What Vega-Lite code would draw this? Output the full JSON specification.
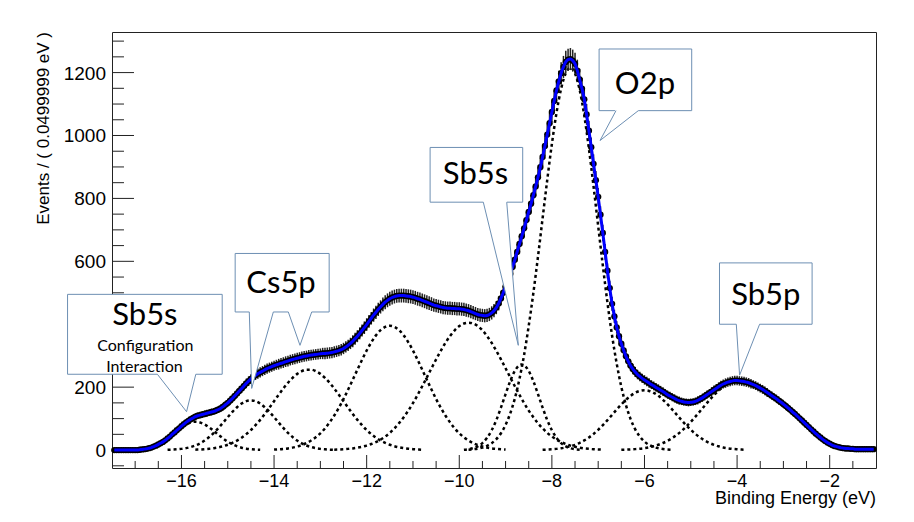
{
"$schema": "https://vega.github.io/schema/vega-lite/v6.json",
"width": 764, "height": 436, "autosize": "none",
"padding": {"left": 112, "top": 32, "right": 38, "bottom": 54},
"background": "white",
"config": {"view": {"stroke": "#222", "strokeWidth": 1}, "axis": {"grid": false}},
"datasets": {
"spec": [
{"x":-17.45,"y":0,"e":0},{"x":-17.4,"y":0,"e":0},{"x":-17.35,"y":0,"e":0},{"x":-17.3,"y":0,"e":0},{"x":-17.25,"y":0,"e":0},{"x":-17.2,"y":0,"e":0},{"x":-17.15,"y":0,"e":0},{"x":-17.1,"y":0,"e":0},{"x":-17.05,"y":0,"e":0},{"x":-17.0,"y":0,"e":0},
{"x":-16.95,"y":0,"e":0},{"x":-16.9,"y":1,"e":1},{"x":-16.85,"y":2,"e":1},{"x":-16.8,"y":3,"e":2},{"x":-16.75,"y":4,"e":2},{"x":-16.7,"y":6,"e":2},{"x":-16.65,"y":8,"e":3},{"x":-16.6,"y":11,"e":3},{"x":-16.55,"y":14,"e":4},{"x":-16.5,"y":18,"e":4},
{"x":-16.45,"y":22,"e":5},{"x":-16.4,"y":26,"e":5},{"x":-16.35,"y":31,"e":6},{"x":-16.3,"y":37,"e":6},{"x":-16.25,"y":43,"e":7},{"x":-16.2,"y":50,"e":7},{"x":-16.15,"y":56,"e":7},{"x":-16.1,"y":63,"e":8},{"x":-16.05,"y":69,"e":8},{"x":-16.0,"y":76,"e":9},
{"x":-15.95,"y":82,"e":9},{"x":-15.9,"y":88,"e":9},{"x":-15.85,"y":93,"e":10},{"x":-15.8,"y":98,"e":10},{"x":-15.75,"y":102,"e":10},{"x":-15.7,"y":106,"e":10},{"x":-15.65,"y":109,"e":10},{"x":-15.6,"y":111,"e":11},{"x":-15.55,"y":113,"e":11},{"x":-15.5,"y":115,"e":11},
{"x":-15.45,"y":117,"e":11},{"x":-15.4,"y":119,"e":11},{"x":-15.35,"y":121,"e":11},{"x":-15.3,"y":123,"e":11},{"x":-15.25,"y":126,"e":11},{"x":-15.2,"y":129,"e":11},{"x":-15.15,"y":133,"e":12},{"x":-15.1,"y":138,"e":12},{"x":-15.05,"y":144,"e":12},{"x":-15.0,"y":150,"e":12},
{"x":-14.95,"y":157,"e":13},{"x":-14.9,"y":164,"e":13},{"x":-14.85,"y":172,"e":13},{"x":-14.8,"y":180,"e":13},{"x":-14.75,"y":188,"e":14},{"x":-14.7,"y":196,"e":14},{"x":-14.65,"y":204,"e":14},{"x":-14.6,"y":212,"e":15},{"x":-14.55,"y":219,"e":15},{"x":-14.5,"y":226,"e":15},
{"x":-14.45,"y":232,"e":15},{"x":-14.4,"y":238,"e":15},{"x":-14.35,"y":243,"e":16},{"x":-14.3,"y":247,"e":16},{"x":-14.25,"y":251,"e":16},{"x":-14.2,"y":255,"e":16},{"x":-14.15,"y":259,"e":16},{"x":-14.1,"y":262,"e":16},{"x":-14.05,"y":265,"e":16},{"x":-14.0,"y":268,"e":16},
{"x":-13.95,"y":271,"e":16},{"x":-13.9,"y":273,"e":17},{"x":-13.85,"y":276,"e":17},{"x":-13.8,"y":278,"e":17},{"x":-13.75,"y":281,"e":17},{"x":-13.7,"y":283,"e":17},{"x":-13.65,"y":286,"e":17},{"x":-13.6,"y":288,"e":17},{"x":-13.55,"y":290,"e":17},{"x":-13.5,"y":292,"e":17},
{"x":-13.45,"y":294,"e":17},{"x":-13.4,"y":296,"e":17},{"x":-13.35,"y":298,"e":17},{"x":-13.3,"y":299,"e":17},{"x":-13.25,"y":301,"e":17},{"x":-13.2,"y":302,"e":17},{"x":-13.15,"y":303,"e":17},{"x":-13.1,"y":304,"e":17},{"x":-13.05,"y":305,"e":17},{"x":-13.0,"y":306,"e":17},
{"x":-12.95,"y":307,"e":18},{"x":-12.9,"y":307,"e":18},{"x":-12.85,"y":308,"e":18},{"x":-12.8,"y":309,"e":18},{"x":-12.75,"y":310,"e":18},{"x":-12.7,"y":312,"e":18},{"x":-12.65,"y":314,"e":18},{"x":-12.6,"y":316,"e":18},{"x":-12.55,"y":319,"e":18},{"x":-12.5,"y":323,"e":18},
{"x":-12.45,"y":328,"e":18},{"x":-12.4,"y":333,"e":18},{"x":-12.35,"y":339,"e":18},{"x":-12.3,"y":346,"e":19},{"x":-12.25,"y":354,"e":19},{"x":-12.2,"y":362,"e":19},{"x":-12.15,"y":371,"e":19},{"x":-12.1,"y":380,"e":19},{"x":-12.05,"y":389,"e":20},{"x":-12.0,"y":399,"e":20},
{"x":-11.95,"y":409,"e":20},{"x":-11.9,"y":419,"e":20},{"x":-11.85,"y":429,"e":21},{"x":-11.8,"y":438,"e":21},{"x":-11.75,"y":447,"e":21},{"x":-11.7,"y":455,"e":21},{"x":-11.65,"y":463,"e":22},{"x":-11.6,"y":470,"e":22},{"x":-11.55,"y":476,"e":22},{"x":-11.5,"y":481,"e":22},
{"x":-11.45,"y":485,"e":22},{"x":-11.4,"y":488,"e":22},{"x":-11.35,"y":490,"e":22},{"x":-11.3,"y":491,"e":22},{"x":-11.25,"y":491,"e":22},{"x":-11.2,"y":491,"e":22},{"x":-11.15,"y":490,"e":22},{"x":-11.1,"y":489,"e":22},{"x":-11.05,"y":488,"e":22},{"x":-11.0,"y":486,"e":22},
{"x":-10.95,"y":484,"e":22},{"x":-10.9,"y":481,"e":22},{"x":-10.85,"y":479,"e":22},{"x":-10.8,"y":476,"e":22},{"x":-10.75,"y":473,"e":22},{"x":-10.7,"y":470,"e":22},{"x":-10.65,"y":467,"e":22},{"x":-10.6,"y":464,"e":22},{"x":-10.55,"y":461,"e":21},{"x":-10.5,"y":459,"e":21},
{"x":-10.45,"y":457,"e":21},{"x":-10.4,"y":455,"e":21},{"x":-10.35,"y":453,"e":21},{"x":-10.3,"y":452,"e":21},{"x":-10.25,"y":451,"e":21},{"x":-10.2,"y":451,"e":21},{"x":-10.15,"y":450,"e":21},{"x":-10.1,"y":450,"e":21},{"x":-10.05,"y":449,"e":21},{"x":-10.0,"y":449,"e":21},
{"x":-9.95,"y":448,"e":21},{"x":-9.9,"y":447,"e":21},{"x":-9.85,"y":445,"e":21},{"x":-9.8,"y":443,"e":21},{"x":-9.75,"y":440,"e":21},{"x":-9.7,"y":437,"e":21},{"x":-9.65,"y":434,"e":21},{"x":-9.6,"y":431,"e":21},{"x":-9.55,"y":429,"e":21},{"x":-9.5,"y":428,"e":21},
{"x":-9.45,"y":427,"e":21},{"x":-9.4,"y":428,"e":21},{"x":-9.35,"y":431,"e":21},{"x":-9.3,"y":436,"e":21},{"x":-9.25,"y":443,"e":21},{"x":-9.2,"y":453,"e":21},{"x":-9.15,"y":466,"e":22},{"x":-9.1,"y":482,"e":22},{"x":-9.05,"y":500,"e":22},{"x":-9.0,"y":520,"e":23},
{"x":-8.95,"y":540,"e":23},{"x":-8.9,"y":560,"e":24},{"x":-8.85,"y":582,"e":24},{"x":-8.8,"y":605,"e":25},{"x":-8.75,"y":630,"e":25},{"x":-8.7,"y":655,"e":26},{"x":-8.65,"y":680,"e":26},{"x":-8.6,"y":705,"e":27},{"x":-8.55,"y":731,"e":27},{"x":-8.5,"y":757,"e":28},
{"x":-8.45,"y":783,"e":28},{"x":-8.4,"y":810,"e":28},{"x":-8.35,"y":838,"e":29},{"x":-8.3,"y":867,"e":29},{"x":-8.25,"y":899,"e":30},{"x":-8.2,"y":932,"e":31},{"x":-8.15,"y":967,"e":31},{"x":-8.1,"y":1003,"e":32},{"x":-8.05,"y":1039,"e":32},{"x":-8.0,"y":1075,"e":33},
{"x":-7.95,"y":1110,"e":33},{"x":-7.9,"y":1143,"e":34},{"x":-7.85,"y":1172,"e":34},{"x":-7.8,"y":1198,"e":35},{"x":-7.75,"y":1218,"e":35},{"x":-7.7,"y":1234,"e":35},{"x":-7.65,"y":1241,"e":35},{"x":-7.6,"y":1243,"e":35},{"x":-7.55,"y":1238,"e":35},{"x":-7.5,"y":1228,"e":35},
{"x":-7.45,"y":1206,"e":35},{"x":-7.4,"y":1178,"e":34},{"x":-7.35,"y":1149,"e":34},{"x":-7.3,"y":1115,"e":33},{"x":-7.25,"y":1067,"e":33},{"x":-7.2,"y":1015,"e":32},{"x":-7.15,"y":963,"e":31},{"x":-7.1,"y":910,"e":30},{"x":-7.05,"y":858,"e":29},{"x":-7.0,"y":805,"e":28},
{"x":-6.95,"y":748,"e":27},{"x":-6.9,"y":690,"e":26},{"x":-6.85,"y":630,"e":25},{"x":-6.8,"y":570,"e":24},{"x":-6.75,"y":515,"e":23},{"x":-6.7,"y":465,"e":22},{"x":-6.65,"y":425,"e":21},{"x":-6.6,"y":390,"e":20},{"x":-6.55,"y":362,"e":19},{"x":-6.5,"y":338,"e":18},
{"x":-6.45,"y":317,"e":18},{"x":-6.4,"y":298,"e":17},{"x":-6.35,"y":282,"e":17},{"x":-6.3,"y":268,"e":16},{"x":-6.25,"y":257,"e":16},{"x":-6.2,"y":248,"e":16},{"x":-6.15,"y":240,"e":15},{"x":-6.1,"y":234,"e":15},{"x":-6.05,"y":228,"e":15},{"x":-6.0,"y":223,"e":15},
{"x":-5.95,"y":218,"e":15},{"x":-5.9,"y":213,"e":15},{"x":-5.85,"y":208,"e":14},{"x":-5.8,"y":204,"e":14},{"x":-5.75,"y":199,"e":14},{"x":-5.7,"y":195,"e":14},{"x":-5.65,"y":190,"e":14},{"x":-5.6,"y":186,"e":14},{"x":-5.55,"y":181,"e":13},{"x":-5.5,"y":176,"e":13},
{"x":-5.45,"y":172,"e":13},{"x":-5.4,"y":168,"e":13},{"x":-5.35,"y":164,"e":13},{"x":-5.3,"y":160,"e":13},{"x":-5.25,"y":157,"e":13},{"x":-5.2,"y":155,"e":12},{"x":-5.15,"y":153,"e":12},{"x":-5.1,"y":152,"e":12},{"x":-5.05,"y":151,"e":12},{"x":-5.0,"y":152,"e":12},
{"x":-4.95,"y":153,"e":12},{"x":-4.9,"y":155,"e":12},{"x":-4.85,"y":158,"e":13},{"x":-4.8,"y":162,"e":13},{"x":-4.75,"y":166,"e":13},{"x":-4.7,"y":171,"e":13},{"x":-4.65,"y":176,"e":13},{"x":-4.6,"y":181,"e":13},{"x":-4.55,"y":186,"e":14},{"x":-4.5,"y":191,"e":14},
{"x":-4.45,"y":196,"e":14},{"x":-4.4,"y":201,"e":14},{"x":-4.35,"y":206,"e":14},{"x":-4.3,"y":210,"e":14},{"x":-4.25,"y":213,"e":15},{"x":-4.2,"y":216,"e":15},{"x":-4.15,"y":218,"e":15},{"x":-4.1,"y":220,"e":15},{"x":-4.05,"y":221,"e":15},{"x":-4.0,"y":221,"e":15},
{"x":-3.95,"y":220,"e":15},{"x":-3.9,"y":219,"e":15},{"x":-3.85,"y":218,"e":15},{"x":-3.8,"y":216,"e":15},{"x":-3.75,"y":214,"e":15},{"x":-3.7,"y":211,"e":15},{"x":-3.65,"y":208,"e":14},{"x":-3.6,"y":205,"e":14},{"x":-3.55,"y":201,"e":14},{"x":-3.5,"y":197,"e":14},
{"x":-3.45,"y":193,"e":14},{"x":-3.4,"y":188,"e":14},{"x":-3.35,"y":183,"e":14},{"x":-3.3,"y":178,"e":13},{"x":-3.25,"y":173,"e":13},{"x":-3.2,"y":168,"e":13},{"x":-3.15,"y":163,"e":13},{"x":-3.1,"y":157,"e":13},{"x":-3.05,"y":152,"e":12},{"x":-3.0,"y":146,"e":12},
{"x":-2.95,"y":140,"e":12},{"x":-2.9,"y":134,"e":12},{"x":-2.85,"y":128,"e":11},{"x":-2.8,"y":121,"e":11},{"x":-2.75,"y":115,"e":11},{"x":-2.7,"y":108,"e":10},{"x":-2.65,"y":101,"e":10},{"x":-2.6,"y":94,"e":10},{"x":-2.55,"y":87,"e":9},{"x":-2.5,"y":80,"e":9},
{"x":-2.45,"y":73,"e":9},{"x":-2.4,"y":66,"e":8},{"x":-2.35,"y":59,"e":8},{"x":-2.3,"y":52,"e":7},{"x":-2.25,"y":46,"e":7},{"x":-2.2,"y":40,"e":6},{"x":-2.15,"y":34,"e":6},{"x":-2.1,"y":29,"e":5},{"x":-2.05,"y":24,"e":5},{"x":-2.0,"y":20,"e":4},
{"x":-1.95,"y":16,"e":4},{"x":-1.9,"y":13,"e":4},{"x":-1.85,"y":11,"e":3},{"x":-1.8,"y":9,"e":3},{"x":-1.75,"y":7,"e":3},{"x":-1.7,"y":6,"e":2},{"x":-1.65,"y":5,"e":2},{"x":-1.6,"y":5,"e":2},{"x":-1.55,"y":4,"e":2},{"x":-1.5,"y":4,"e":2},
{"x":-1.45,"y":3,"e":2},{"x":-1.4,"y":3,"e":2},{"x":-1.35,"y":3,"e":2},{"x":-1.3,"y":3,"e":2},{"x":-1.25,"y":3,"e":2},{"x":-1.2,"y":3,"e":2},{"x":-1.15,"y":3,"e":2},{"x":-1.1,"y":3,"e":2},{"x":-1.05,"y":3,"e":2}
],
"comp": [
{"c":"C1","x":-17.0,"y":1.4},{"c":"C1","x":-16.9,"y":2.6},{"c":"C1","x":-16.8,"y":4.5},{"c":"C1","x":-16.7,"y":7.6},{"c":"C1","x":-16.6,"y":12.2},{"c":"C1","x":-16.5,"y":18.5},{"c":"C1","x":-16.4,"y":26.8},{"c":"C1","x":-16.3,"y":37},{"c":"C1","x":-16.2,"y":48.5},{"c":"C1","x":-16.1,"y":60.7},{"c":"C1","x":-16.0,"y":72.1},{"c":"C1","x":-15.9,"y":81.5},{"c":"C1","x":-15.8,"y":87.8},{"c":"C1","x":-15.7,"y":90},{"c":"C1","x":-15.6,"y":87.8},{"c":"C1","x":-15.5,"y":81.5},{"c":"C1","x":-15.4,"y":72.1},{"c":"C1","x":-15.3,"y":60.7},{"c":"C1","x":-15.2,"y":48.5},{"c":"C1","x":-15.1,"y":37},{"c":"C1","x":-15.0,"y":26.8},{"c":"C1","x":-14.9,"y":18.5},{"c":"C1","x":-14.8,"y":12.2},{"c":"C1","x":-14.7,"y":7.6},{"c":"C1","x":-14.6,"y":4.5},{"c":"C1","x":-14.5,"y":2.6},{"c":"C1","x":-14.4,"y":1.4},{"c":"C1","x":-14.3,"y":0.7},
{"c":"C2","x":-16.3,"y":0.7},{"c":"C2","x":-16.2,"y":1.3},{"c":"C2","x":-16.1,"y":2.3},{"c":"C2","x":-16.0,"y":3.8},{"c":"C2","x":-15.9,"y":6.2},{"c":"C2","x":-15.8,"y":9.7},{"c":"C2","x":-15.7,"y":14.6},{"c":"C2","x":-15.6,"y":21.3},{"c":"C2","x":-15.5,"y":30.2},{"c":"C2","x":-15.4,"y":41.4},{"c":"C2","x":-15.3,"y":54.8},{"c":"C2","x":-15.2,"y":70.3},{"c":"C2","x":-15.1,"y":87.2},{"c":"C2","x":-15.0,"y":104.6},{"c":"C2","x":-14.9,"y":121.3},{"c":"C2","x":-14.8,"y":136.2},{"c":"C2","x":-14.7,"y":147.9},{"c":"C2","x":-14.6,"y":155.5},{"c":"C2","x":-14.5,"y":158},{"c":"C2","x":-14.4,"y":155.5},{"c":"C2","x":-14.3,"y":147.9},{"c":"C2","x":-14.2,"y":136.2},{"c":"C2","x":-14.1,"y":121.3},{"c":"C2","x":-14.0,"y":104.6},{"c":"C2","x":-13.9,"y":87.2},{"c":"C2","x":-13.8,"y":70.3},{"c":"C2","x":-13.7,"y":54.8},{"c":"C2","x":-13.6,"y":41.4},{"c":"C2","x":-13.5,"y":30.2},{"c":"C2","x":-13.4,"y":21.3},{"c":"C2","x":-13.3,"y":14.6},{"c":"C2","x":-13.2,"y":9.7},{"c":"C2","x":-13.1,"y":6.2},{"c":"C2","x":-13.0,"y":3.8},{"c":"C2","x":-12.9,"y":2.3},{"c":"C2","x":-12.8,"y":1.3},{"c":"C2","x":-12.7,"y":0.7},
{"c":"C3","x":-15.7,"y":1.2},{"c":"C3","x":-15.6,"y":1.9},{"c":"C3","x":-15.5,"y":2.8},{"c":"C3","x":-15.4,"y":4.2},{"c":"C3","x":-15.3,"y":6.1},{"c":"C3","x":-15.2,"y":8.7},{"c":"C3","x":-15.1,"y":12.3},{"c":"C3","x":-15.0,"y":16.9},{"c":"C3","x":-14.9,"y":22.8},{"c":"C3","x":-14.8,"y":30.2},{"c":"C3","x":-14.7,"y":39.4},{"c":"C3","x":-14.6,"y":50.7},{"c":"C3","x":-14.5,"y":63.7},{"c":"C3","x":-14.4,"y":79.1},{"c":"C3","x":-14.3,"y":96},{"c":"C3","x":-14.2,"y":114.7},{"c":"C3","x":-14.1,"y":134.7},{"c":"C3","x":-14.0,"y":155.4},{"c":"C3","x":-13.9,"y":175.9},{"c":"C3","x":-13.8,"y":195.6},{"c":"C3","x":-13.7,"y":213.8},{"c":"C3","x":-13.6,"y":229.6},{"c":"C3","x":-13.5,"y":242.2},{"c":"C3","x":-13.4,"y":250.9},{"c":"C3","x":-13.3,"y":255.5},{"c":"C3","x":-13.2,"y":255.5},{"c":"C3","x":-13.1,"y":250.9},{"c":"C3","x":-13.0,"y":242.2},{"c":"C3","x":-12.9,"y":229.6},{"c":"C3","x":-12.8,"y":213.8},{"c":"C3","x":-12.7,"y":195.6},{"c":"C3","x":-12.6,"y":175.9},{"c":"C3","x":-12.5,"y":155.4},{"c":"C3","x":-12.4,"y":134.7},{"c":"C3","x":-12.3,"y":114.7},{"c":"C3","x":-12.2,"y":96},{"c":"C3","x":-12.1,"y":79.1},{"c":"C3","x":-12.0,"y":63.7},{"c":"C3","x":-11.9,"y":50.7},{"c":"C3","x":-11.8,"y":39.4},{"c":"C3","x":-11.7,"y":30.2},{"c":"C3","x":-11.6,"y":22.8},{"c":"C3","x":-11.5,"y":16.9},{"c":"C3","x":-11.4,"y":12.3},{"c":"C3","x":-11.3,"y":8.7},{"c":"C3","x":-11.2,"y":6.1},{"c":"C3","x":-11.1,"y":4.2},{"c":"C3","x":-11.0,"y":2.8},{"c":"C3","x":-10.9,"y":1.9},{"c":"C3","x":-10.8,"y":1.2},
{"c":"C4","x":-14.0,"y":1.5},{"c":"C4","x":-13.9,"y":2.4},{"c":"C4","x":-13.8,"y":3.6},{"c":"C4","x":-13.7,"y":5.3},{"c":"C4","x":-13.6,"y":7.8},{"c":"C4","x":-13.5,"y":11.3},{"c":"C4","x":-13.4,"y":15.8},{"c":"C4","x":-13.3,"y":22.1},{"c":"C4","x":-13.2,"y":30.4},{"c":"C4","x":-13.1,"y":40.7},{"c":"C4","x":-13.0,"y":53.3},{"c":"C4","x":-12.9,"y":69.1},{"c":"C4","x":-12.8,"y":88.1},{"c":"C4","x":-12.7,"y":109.8},{"c":"C4","x":-12.6,"y":134.7},{"c":"C4","x":-12.5,"y":162.3},{"c":"C4","x":-12.4,"y":192.4},{"c":"C4","x":-12.3,"y":223.6},{"c":"C4","x":-12.2,"y":255.6},{"c":"C4","x":-12.1,"y":286.8},{"c":"C4","x":-12.0,"y":316.4},{"c":"C4","x":-11.9,"y":342.5},{"c":"C4","x":-11.8,"y":364.6},{"c":"C4","x":-11.7,"y":381.2},{"c":"C4","x":-11.6,"y":391.4},{"c":"C4","x":-11.5,"y":395},{"c":"C4","x":-11.4,"y":391.4},{"c":"C4","x":-11.3,"y":381.2},{"c":"C4","x":-11.2,"y":364.6},{"c":"C4","x":-11.1,"y":342.5},{"c":"C4","x":-11.0,"y":316.4},{"c":"C4","x":-10.9,"y":286.8},{"c":"C4","x":-10.8,"y":255.6},{"c":"C4","x":-10.7,"y":223.6},{"c":"C4","x":-10.6,"y":192.4},{"c":"C4","x":-10.5,"y":162.3},{"c":"C4","x":-10.4,"y":134.7},{"c":"C4","x":-10.3,"y":109.8},{"c":"C4","x":-10.2,"y":88.1},{"c":"C4","x":-10.1,"y":69.1},{"c":"C4","x":-10.0,"y":53.3},{"c":"C4","x":-9.9,"y":40.7},{"c":"C4","x":-9.8,"y":30.4},{"c":"C4","x":-9.7,"y":22.1},{"c":"C4","x":-9.6,"y":15.8},{"c":"C4","x":-9.5,"y":11.3},{"c":"C4","x":-9.4,"y":7.8},{"c":"C4","x":-9.3,"y":5.3},{"c":"C4","x":-9.2,"y":3.6},{"c":"C4","x":-9.1,"y":2.4},{"c":"C4","x":-9.0,"y":1.5},
{"c":"C5","x":-12.7,"y":1.2},{"c":"C5","x":-12.6,"y":1.8},{"c":"C5","x":-12.5,"y":2.6},{"c":"C5","x":-12.4,"y":3.8},{"c":"C5","x":-12.3,"y":5.3},{"c":"C5","x":-12.2,"y":7.5},{"c":"C5","x":-12.1,"y":10.4},{"c":"C5","x":-12.0,"y":14.2},{"c":"C5","x":-11.9,"y":19.2},{"c":"C5","x":-11.8,"y":25.4},{"c":"C5","x":-11.7,"y":33.3},{"c":"C5","x":-11.6,"y":42.9},{"c":"C5","x":-11.5,"y":54.7},{"c":"C5","x":-11.4,"y":68.9},{"c":"C5","x":-11.3,"y":85.5},{"c":"C5","x":-11.2,"y":104.5},{"c":"C5","x":-11.1,"y":125.6},{"c":"C5","x":-11.0,"y":149.4},{"c":"C5","x":-10.9,"y":175.4},{"c":"C5","x":-10.8,"y":202.9},{"c":"C5","x":-10.7,"y":231.3},{"c":"C5","x":-10.6,"y":260},{"c":"C5","x":-10.5,"y":288.4},{"c":"C5","x":-10.4,"y":315.5},{"c":"C5","x":-10.3,"y":340.6},{"c":"C5","x":-10.2,"y":362.5},{"c":"C5","x":-10.1,"y":380.7},{"c":"C5","x":-10.0,"y":394.1},{"c":"C5","x":-9.9,"y":402.2},{"c":"C5","x":-9.8,"y":405},{"c":"C5","x":-9.7,"y":402.2},{"c":"C5","x":-9.6,"y":394.1},{"c":"C5","x":-9.5,"y":380.7},{"c":"C5","x":-9.4,"y":362.5},{"c":"C5","x":-9.3,"y":340.6},{"c":"C5","x":-9.2,"y":315.5},{"c":"C5","x":-9.1,"y":288.4},{"c":"C5","x":-9.0,"y":260},{"c":"C5","x":-8.9,"y":231.3},{"c":"C5","x":-8.8,"y":202.9},{"c":"C5","x":-8.7,"y":175.4},{"c":"C5","x":-8.6,"y":149.4},{"c":"C5","x":-8.5,"y":125.6},{"c":"C5","x":-8.4,"y":104.5},{"c":"C5","x":-8.3,"y":85.5},{"c":"C5","x":-8.2,"y":68.9},{"c":"C5","x":-8.1,"y":54.7},{"c":"C5","x":-8.0,"y":42.9},{"c":"C5","x":-7.9,"y":33.3},{"c":"C5","x":-7.8,"y":25.4},{"c":"C5","x":-7.7,"y":19.2},{"c":"C5","x":-7.6,"y":14.2},{"c":"C5","x":-7.5,"y":10.4},{"c":"C5","x":-7.4,"y":7.5},{"c":"C5","x":-7.3,"y":5.3},{"c":"C5","x":-7.2,"y":3.8},{"c":"C5","x":-7.1,"y":2.6},{"c":"C5","x":-7.0,"y":1.8},{"c":"C5","x":-6.9,"y":1.2},
{"c":"C6","x":-9.9,"y":1.2},{"c":"C6","x":-9.8,"y":2.8},{"c":"C6","x":-9.7,"y":6},{"c":"C6","x":-9.6,"y":12},{"c":"C6","x":-9.5,"y":22.3},{"c":"C6","x":-9.4,"y":38.9},{"c":"C6","x":-9.3,"y":63.1},{"c":"C6","x":-9.2,"y":95.5},{"c":"C6","x":-9.1,"y":134.9},{"c":"C6","x":-9.0,"y":177.9},{"c":"C6","x":-8.9,"y":219},{"c":"C6","x":-8.8,"y":251.6},{"c":"C6","x":-8.7,"y":269.6},{"c":"C6","x":-8.65,"y":272},{"c":"C6","x":-8.6,"y":269.6},{"c":"C6","x":-8.5,"y":251.6},{"c":"C6","x":-8.4,"y":219},{"c":"C6","x":-8.3,"y":177.9},{"c":"C6","x":-8.2,"y":134.9},{"c":"C6","x":-8.1,"y":95.5},{"c":"C6","x":-8.0,"y":63.1},{"c":"C6","x":-7.9,"y":38.9},{"c":"C6","x":-7.8,"y":22.3},{"c":"C6","x":-7.7,"y":12},{"c":"C6","x":-7.6,"y":6},{"c":"C6","x":-7.5,"y":2.8},{"c":"C6","x":-7.4,"y":1.2},
{"c":"C7","x":-9.8,"y":1.4},{"c":"C7","x":-9.7,"y":2.6},{"c":"C7","x":-9.6,"y":4.7},{"c":"C7","x":-9.5,"y":8},{"c":"C7","x":-9.4,"y":13.5},{"c":"C7","x":-9.3,"y":22},{"c":"C7","x":-9.2,"y":34.7},{"c":"C7","x":-9.1,"y":53.3},{"c":"C7","x":-9.0,"y":79.8},{"c":"C7","x":-8.9,"y":116.2},{"c":"C7","x":-8.8,"y":164},{"c":"C7","x":-8.7,"y":226},{"c":"C7","x":-8.6,"y":302.5},{"c":"C7","x":-8.5,"y":394.9},{"c":"C7","x":-8.4,"y":499.4},{"c":"C7","x":-8.3,"y":614.8},{"c":"C7","x":-8.2,"y":737.5},{"c":"C7","x":-8.1,"y":859},{"c":"C7","x":-8.0,"y":973},{"c":"C7","x":-7.9,"y":1072},{"c":"C7","x":-7.8,"y":1149},{"c":"C7","x":-7.7,"y":1198},{"c":"C7","x":-7.6,"y":1215},{"c":"C7","x":-7.5,"y":1197},{"c":"C7","x":-7.4,"y":1145},{"c":"C7","x":-7.3,"y":1063},{"c":"C7","x":-7.2,"y":958},{"c":"C7","x":-7.1,"y":838},{"c":"C7","x":-7.0,"y":712},{"c":"C7","x":-6.9,"y":587},{"c":"C7","x":-6.8,"y":469},{"c":"C7","x":-6.7,"y":364},{"c":"C7","x":-6.6,"y":275},{"c":"C7","x":-6.5,"y":201},{"c":"C7","x":-6.4,"y":143},{"c":"C7","x":-6.3,"y":98.5},{"c":"C7","x":-6.2,"y":66},{"c":"C7","x":-6.1,"y":42.9},{"c":"C7","x":-6.0,"y":27.1},{"c":"C7","x":-5.9,"y":16.5},{"c":"C7","x":-5.8,"y":9.8},{"c":"C7","x":-5.7,"y":5.7},{"c":"C7","x":-5.6,"y":3.2},{"c":"C7","x":-5.5,"y":1.7},{"c":"C7","x":-5.4,"y":0.9},
{"c":"C8","x":-8.2,"y":1},{"c":"C8","x":-8.1,"y":1.6},{"c":"C8","x":-8.0,"y":2.5},{"c":"C8","x":-7.9,"y":3.8},{"c":"C8","x":-7.8,"y":5.7},{"c":"C8","x":-7.7,"y":8.3},{"c":"C8","x":-7.6,"y":11.9},{"c":"C8","x":-7.5,"y":16.7},{"c":"C8","x":-7.4,"y":22.8},{"c":"C8","x":-7.3,"y":30.6},{"c":"C8","x":-7.2,"y":40.1},{"c":"C8","x":-7.1,"y":51.3},{"c":"C8","x":-7.0,"y":64.4},{"c":"C8","x":-6.9,"y":79},{"c":"C8","x":-6.8,"y":95.2},{"c":"C8","x":-6.7,"y":111.9},{"c":"C8","x":-6.6,"y":128.8},{"c":"C8","x":-6.5,"y":145},{"c":"C8","x":-6.4,"y":159.8},{"c":"C8","x":-6.3,"y":172.3},{"c":"C8","x":-6.2,"y":182},{"c":"C8","x":-6.1,"y":187.9},{"c":"C8","x":-6.0,"y":190},{"c":"C8","x":-5.9,"y":187.9},{"c":"C8","x":-5.8,"y":182},{"c":"C8","x":-5.7,"y":172.3},{"c":"C8","x":-5.6,"y":159.8},{"c":"C8","x":-5.5,"y":145},{"c":"C8","x":-5.4,"y":128.8},{"c":"C8","x":-5.3,"y":111.9},{"c":"C8","x":-5.2,"y":95.2},{"c":"C8","x":-5.1,"y":79},{"c":"C8","x":-5.0,"y":64.4},{"c":"C8","x":-4.9,"y":51.3},{"c":"C8","x":-4.8,"y":40.1},{"c":"C8","x":-4.7,"y":30.6},{"c":"C8","x":-4.6,"y":22.8},{"c":"C8","x":-4.5,"y":16.7},{"c":"C8","x":-4.4,"y":11.9},{"c":"C8","x":-4.3,"y":8.3},{"c":"C8","x":-4.2,"y":5.7},{"c":"C8","x":-4.1,"y":3.8},{"c":"C8","x":-4.0,"y":2.5},{"c":"C8","x":-3.9,"y":1.6},{"c":"C8","x":-3.8,"y":1},
{"c":"C9","x":-6.5,"y":0.8},{"c":"C9","x":-6.4,"y":1.3},{"c":"C9","x":-6.3,"y":2},{"c":"C9","x":-6.2,"y":3},{"c":"C9","x":-6.1,"y":4.3},{"c":"C9","x":-6.0,"y":6.2},{"c":"C9","x":-5.9,"y":8.7},{"c":"C9","x":-5.8,"y":12.2},{"c":"C9","x":-5.7,"y":16.8},{"c":"C9","x":-5.6,"y":22.5},{"c":"C9","x":-5.5,"y":29.4},{"c":"C9","x":-5.4,"y":38.2},{"c":"C9","x":-5.3,"y":48.6},{"c":"C9","x":-5.2,"y":60.6},{"c":"C9","x":-5.1,"y":74.3},{"c":"C9","x":-5.0,"y":89.6},{"c":"C9","x":-4.9,"y":106.2},{"c":"C9","x":-4.8,"y":123.4},{"c":"C9","x":-4.7,"y":141},{"c":"C9","x":-4.6,"y":158.3},{"c":"C9","x":-4.5,"y":174.6},{"c":"C9","x":-4.4,"y":189},{"c":"C9","x":-4.3,"y":201.2},{"c":"C9","x":-4.2,"y":210.4},{"c":"C9","x":-4.1,"y":216},{"c":"C9","x":-4.0,"y":218},{"c":"C9","x":-3.9,"y":217},{"c":"C9","x":-3.8,"y":214},{"c":"C9","x":-3.7,"y":210},{"c":"C9","x":-3.6,"y":204},{"c":"C9","x":-3.5,"y":197},{"c":"C9","x":-3.4,"y":188},{"c":"C9","x":-3.3,"y":178},{"c":"C9","x":-3.2,"y":168},{"c":"C9","x":-3.1,"y":157},{"c":"C9","x":-3.0,"y":146},{"c":"C9","x":-2.9,"y":134},{"c":"C9","x":-2.8,"y":121},{"c":"C9","x":-2.7,"y":108},{"c":"C9","x":-2.6,"y":94},{"c":"C9","x":-2.5,"y":80},{"c":"C9","x":-2.4,"y":66},{"c":"C9","x":-2.3,"y":52},{"c":"C9","x":-2.2,"y":40},{"c":"C9","x":-2.1,"y":29},{"c":"C9","x":-2.0,"y":20},{"c":"C9","x":-1.9,"y":13},{"c":"C9","x":-1.8,"y":8},{"c":"C9","x":-1.7,"y":5},{"c":"C9","x":-1.6,"y":3},{"c":"C9","x":-1.5,"y":2},{"c":"C9","x":-1.4,"y":1}
],
"xmaj": [{"v":-16,"lab":"−16"},{"v":-14,"lab":"−14"},{"v":-12,"lab":"−12"},{"v":-10,"lab":"−10"},{"v":-8,"lab":"−8"},{"v":-6,"lab":"−6"},{"v":-4,"lab":"−4"},{"v":-2,"lab":"−2"}],
"xmin": [{"v":-17},{"v":-16.5},{"v":-15.5},{"v":-15},{"v":-14.5},{"v":-13.5},{"v":-13},{"v":-12.5},{"v":-11.5},{"v":-11},{"v":-10.5},{"v":-9.5},{"v":-9},{"v":-8.5},{"v":-7.5},{"v":-7},{"v":-6.5},{"v":-5.5},{"v":-5},{"v":-4.5},{"v":-3.5},{"v":-3},{"v":-2.5},{"v":-1.5}],
"ymaj": [{"v":0,"lab":"0"},{"v":200,"lab":"200"},{"v":400,"lab":"400"},{"v":600,"lab":"600"},{"v":800,"lab":"800"},{"v":1000,"lab":"1000"},{"v":1200,"lab":"1200"}],
"ymin": [{"v":-50},{"v":50},{"v":100},{"v":150},{"v":250},{"v":300},{"v":350},{"v":450},{"v":500},{"v":550},{"v":650},{"v":700},{"v":750},{"v":850},{"v":900},{"v":950},{"v":1050},{"v":1100},{"v":1150},{"v":1250},{"v":1300}],
"titles": [{"t":"Binding Energy (eV)"}],
"ytitles": [{"t":"Events / ( 0.0499999 eV )"}],
"boxes": [
{"b":"1","x1":-18.46,"x2":-15.12,"y1":241,"y2":495},
{"b":"2","x1":-14.84,"x2":-12.81,"y1":439,"y2":625},
{"b":"3","x1":-10.63,"x2":-8.63,"y1":788,"y2":962},
{"b":"4","x1":-6.98,"x2":-4.98,"y1":1079,"y2":1275},
{"b":"5","x1":-4.38,"x2":-2.38,"y1":400,"y2":595}
],
"ptr": [
{"p":"1","x":-16.52,"lo":241,"hi":247},{"p":"1","x":-15.89,"lo":122,"hi":247},{"p":"1","x":-15.69,"lo":241,"hi":247},
{"p":"2","x":-14.535,"lo":439,"hi":445},{"p":"2","x":-14.483,"lo":196,"hi":445},{"p":"2","x":-14.016,"lo":439,"hi":445},
{"p":"3","x":-13.692,"lo":439,"hi":445},{"p":"3","x":-13.44,"lo":333,"hi":445},{"p":"3","x":-13.187,"lo":439,"hi":445},
{"p":"4","x":-9.481,"lo":788,"hi":794},{"p":"4","x":-8.975,"lo":484,"hi":794},{"p":"4","x":-8.725,"lo":333,"hi":333},
{"p":"5","x":-6.96,"lo":984,"hi":984},{"p":"5","x":-6.615,"lo":1024,"hi":1085},{"p":"5","x":-6.133,"lo":1079,"hi":1085},
{"p":"6","x":-4.017,"lo":400,"hi":406},{"p":"6","x":-3.946,"lo":238,"hi":406},{"p":"6","x":-3.514,"lo":400,"hi":406}
],
"plines": [
{"s":"1a","x":-16.52,"y":241},{"s":"1a","x":-15.89,"y":122},{"s":"1b","x":-15.69,"y":241},{"s":"1b","x":-15.89,"y":122},
{"s":"2a","x":-14.535,"y":439},{"s":"2a","x":-14.483,"y":196},{"s":"2b","x":-14.016,"y":439},{"s":"2b","x":-14.483,"y":196},
{"s":"3a","x":-13.692,"y":439},{"s":"3a","x":-13.44,"y":333},{"s":"3b","x":-13.187,"y":439},{"s":"3b","x":-13.44,"y":333},
{"s":"4a","x":-9.481,"y":788},{"s":"4a","x":-8.725,"y":333},{"s":"4b","x":-8.975,"y":788},{"s":"4b","x":-8.725,"y":333},
{"s":"5a","x":-6.615,"y":1079},{"s":"5a","x":-6.96,"y":984},{"s":"5b","x":-6.133,"y":1079},{"s":"5b","x":-6.96,"y":984},
{"s":"6a","x":-4.017,"y":400},{"s":"6a","x":-3.946,"y":238},{"s":"6b","x":-3.514,"y":400},{"s":"6b","x":-3.946,"y":238}
],
"big": [
{"t":"Sb5s","x":-16.79,"y":397},{"t":"Cs5p","x":-13.85,"y":498},{"t":"Sb5s","x":-9.65,"y":847},{"t":"O2p","x":-5.99,"y":1132},{"t":"Sb5p","x":-3.38,"y":460}
],
"small": [
{"t":"Configuration","x":-16.78,"y":315},{"t":"Interaction","x":-16.8,"y":249}
]
},
"layer": [
{"data": {"name": "xmaj"}, "mark": {"type": "rule", "color": "#222", "strokeWidth": 1},
 "encoding": {"x": {"field": "v", "type": "quantitative", "scale": {"domain": [-17.5, -1], "nice": false, "zero": false}, "axis": null},
              "y": {"datum": -57, "type": "quantitative", "scale": {"domain": [-57, 1329], "nice": false, "zero": false}, "axis": null}, "y2": {"datum": -15.7}}},
{"data": {"name": "xmin"}, "mark": {"type": "rule", "color": "#222", "strokeWidth": 1},
 "encoding": {"x": {"field": "v", "type": "quantitative", "axis": null},
              "y": {"datum": -57, "type": "quantitative", "axis": null}, "y2": {"datum": -34.7}}},
{"data": {"name": "ymaj"}, "mark": {"type": "rule", "color": "#222", "strokeWidth": 1},
 "encoding": {"y": {"field": "v", "type": "quantitative", "axis": null},
              "x": {"datum": -17.5, "type": "quantitative", "axis": null}, "x2": {"datum": -17.025}}},
{"data": {"name": "ymin"}, "mark": {"type": "rule", "color": "#222", "strokeWidth": 1},
 "encoding": {"y": {"field": "v", "type": "quantitative", "axis": null},
              "x": {"datum": -17.5, "type": "quantitative", "axis": null}, "x2": {"datum": -17.241}}},
{"data": {"name": "xmaj"}, "mark": {"type": "text", "font": "Liberation Sans", "fontSize": 18, "align": "center", "baseline": "alphabetic", "dy": 19, "color": "#000"},
 "encoding": {"x": {"field": "v", "type": "quantitative", "axis": null},
              "y": {"datum": -57, "type": "quantitative", "axis": null}, "text": {"field": "lab"}}},
{"data": {"name": "ymaj"}, "mark": {"type": "text", "font": "Liberation Sans", "fontSize": 19, "align": "right", "baseline": "middle", "dx": -6, "dy": 1, "color": "#000"},
 "encoding": {"y": {"field": "v", "type": "quantitative", "axis": null},
              "x": {"datum": -17.5, "type": "quantitative", "axis": null}, "text": {"field": "lab"}}},
{"data": {"name": "titles"}, "mark": {"type": "text", "font": "Liberation Sans", "fontSize": 18, "align": "right", "baseline": "alphabetic", "dy": 36, "color": "#000"},
 "encoding": {"x": {"datum": -1, "type": "quantitative", "axis": null},
              "y": {"datum": -57, "type": "quantitative", "axis": null}, "text": {"field": "t"}}},
{"data": {"name": "ytitles"}, "mark": {"type": "text", "font": "Liberation Sans", "fontSize": 17, "align": "right", "baseline": "alphabetic", "angle": 270, "dy": -63, "color": "#000"},
 "encoding": {"x": {"datum": -17.5, "type": "quantitative", "axis": null},
              "y": {"datum": 1329, "type": "quantitative", "axis": null}, "text": {"field": "t"}}},
{"mark": {"type": "rule", "color": "black", "strokeWidth": 2.5, "strokeDash": [3, 3]},
 "encoding": {"y": {"datum": 0, "type": "quantitative", "axis": null}}},
{"data": {"name": "comp"},
 "mark": {"type": "line", "color": "black", "strokeWidth": 2.5, "strokeDash": [3, 3], "interpolate": "monotone"},
 "encoding": {
  "x": {"field": "x", "type": "quantitative", "axis": null},
  "y": {"field": "y", "type": "quantitative", "axis": null},
  "detail": {"field": "c"}}},
{"data": {"name": "spec"},
 "mark": {"type": "errorbar", "color": "#222", "thickness": 1.5},
 "encoding": {
  "x": {"field": "x", "type": "quantitative", "axis": null},
  "y": {"field": "y", "type": "quantitative", "axis": null},
  "yError": {"field": "e"}}},
{"data": {"name": "spec"},
 "mark": {"type": "point", "filled": true, "size": 40, "color": "black", "opacity": 1},
 "encoding": {
  "x": {"field": "x", "type": "quantitative", "axis": null},
  "y": {"field": "y", "type": "quantitative", "axis": null}}},
{"data": {"name": "spec"},
 "mark": {"type": "line", "color": "#0000ff", "strokeWidth": 3, "interpolate": "monotone"},
 "encoding": {
  "x": {"field": "x", "type": "quantitative", "axis": null},
  "y": {"field": "y", "type": "quantitative", "axis": null}}},
{"data": {"name": "boxes"},
 "mark": {"type": "rect", "fill": "white", "stroke": "#6d8fb3", "strokeWidth": 1},
 "encoding": {
  "x": {"field": "x1", "type": "quantitative", "axis": null}, "x2": {"field": "x2"},
  "y": {"field": "y1", "type": "quantitative", "axis": null}, "y2": {"field": "y2"}}},
{"data": {"name": "ptr"},
 "mark": {"type": "area", "fill": "white", "opacity": 1},
 "encoding": {
  "x": {"field": "x", "type": "quantitative", "axis": null},
  "y": {"field": "lo", "type": "quantitative", "axis": null}, "y2": {"field": "hi"},
  "detail": {"field": "p"}}},
{"data": {"name": "plines"},
 "mark": {"type": "line", "color": "#6d8fb3", "strokeWidth": 1},
 "encoding": {
  "x": {"field": "x", "type": "quantitative", "axis": null},
  "y": {"field": "y", "type": "quantitative", "axis": null},
  "detail": {"field": "s"}}},
{"data": {"name": "big"},
 "mark": {"type": "text", "font": "Lato", "fontSize": 31, "align": "center", "baseline": "alphabetic", "color": "black"},
 "encoding": {
  "x": {"field": "x", "type": "quantitative", "axis": null},
  "y": {"field": "y", "type": "quantitative", "axis": null},
  "text": {"field": "t"}}},
{"data": {"name": "small"},
 "mark": {"type": "text", "font": "Lato", "fontSize": 16, "align": "center", "baseline": "alphabetic", "color": "black"},
 "encoding": {
  "x": {"field": "x", "type": "quantitative", "axis": null},
  "y": {"field": "y", "type": "quantitative", "axis": null},
  "text": {"field": "t"}}}
]
}
